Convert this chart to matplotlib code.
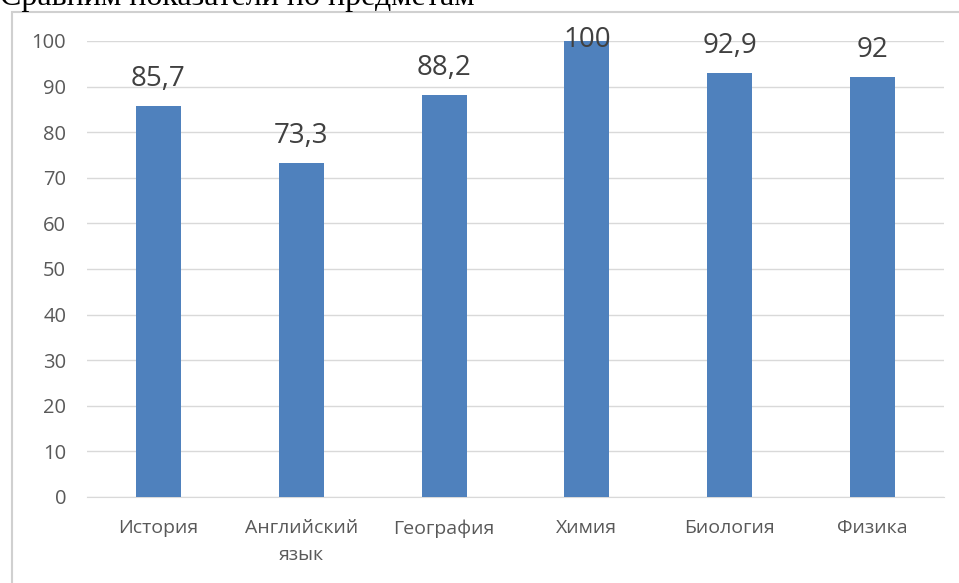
import matplotlib.pyplot as plt
from matplotlib.patches import Rectangle

# данные диаграммы
subjects = ['История', 'Английский\nязык', 'География', 'Химия', 'Биология', 'Физика']
values = [85.7, 73.3, 88.2, 100, 92.9, 92]
labels = ['85,7', '73,3', '88,2', '100', '92,9', '92']
yticks = [0, 10, 20, 30, 40, 50, 60, 70, 80, 90, 100]

fig = plt.figure(figsize=(9.59, 5.83), dpi=100)

# рамка вокруг диаграммы
fig.patches.append(Rectangle((12 / 959, -0.1), 1.0, 1 - 12 / 583 + 0.1,
                             transform=fig.transFigure, fill=False,
                             edgecolor='#d0d0d0', linewidth=1.5))

# заголовок (обрезан сверху)
fig.text(0.0, 1 - 5 / 583, 'Сравним показатели по предметам',
         family='Liberation Serif', fontsize=23, color='black', va='baseline')

ax = fig.add_axes([87 / 959, 1 - 497 / 583, (944 - 87) / 959, (497 - 41) / 583])
x = range(len(subjects))
ax.bar(x, values, width=0.315, color='#4f81bd', zorder=3)

for xi, v, lab in zip(x, values, labels):
    off = 14.4 if v < 99 else -4.3
    ax.annotate(lab, (xi, v), xytext=(0, off), textcoords='offset points',
                ha='center', va='baseline', fontsize=20, color='#404040',
                family='Open Sans', zorder=4, annotation_clip=False)

ax.set_ylim(0, 100)
ax.set_xlim(-0.5, len(subjects) - 0.5)
ax.set_yticks(yticks)
ax.set_xticks(list(x))
ax.set_xticklabels(subjects, fontsize=14, color='#595959', family='Open Sans',
                   linespacing=1.65)
ax.tick_params(axis='y', labelsize=14.5, labelcolor='#595959', length=0, pad=15)
ax.tick_params(axis='x', length=0, pad=16)
for lab in ax.get_yticklabels():
    lab.set_family('Open Sans')
ax.yaxis.grid(True, color='#d9d9d9', linewidth=1, zorder=0)
for s in ['top', 'right', 'left']:
    ax.spines[s].set_visible(False)
ax.spines['bottom'].set_color('#d9d9d9')
ax.spines['bottom'].set_zorder(0)

plt.savefig('out.png', dpi=100)
